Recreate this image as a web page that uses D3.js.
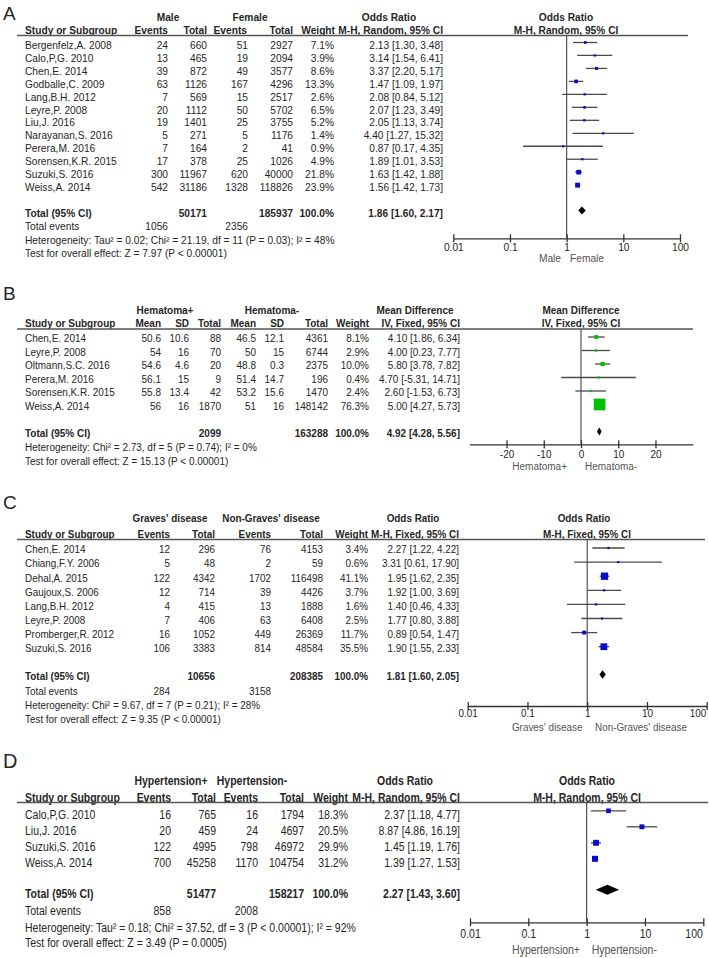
<!DOCTYPE html>
<html><head><meta charset="utf-8">
<script src="https://cdn.jsdelivr.net/npm/d3@7"></script>
<style>
body{margin:0;background:#fff}
svg{display:block}
text{font-family:"Liberation Sans",Arial,sans-serif;fill:#262626}
</style>
</head><body>
<svg id="chart" width="709" height="958"></svg>
<script>
// ---------- Panel A : Male vs Female ----------
const studiesA = ["Bergenfelz,A. 2008","Calo,P,G. 2010","Chen,E. 2014","Godballe,C. 2009","Lang,B.H. 2012","Leyre,P. 2008","Liu,J. 2016","Narayanan,S. 2016","Perera,M. 2016","Sorensen,K.R. 2015","Suzuki,S. 2016","Weiss,A. 2014"];
const maleEventsA = [24,13,39,63,7,20,19,5,7,17,300,542];
const maleTotalA = [660,465,872,1126,569,1112,1401,271,164,378,11967,31186];
const femaleEventsA = [51,19,49,167,15,50,25,5,2,25,620,1328];
const femaleTotalA = [2927,2094,3577,4296,2517,5702,3755,1176,41,1026,40000,118826];
const weightA = [7.1,3.9,8.6,13.3,2.6,6.5,5.2,1.4,0.9,4.9,21.8,23.9];
const orA = [2.13,3.14,3.37,1.47,2.08,2.07,2.05,4.40,0.87,1.89,1.63,1.56];
const loA = [1.30,1.54,2.20,1.09,0.84,1.23,1.13,1.27,0.17,1.01,1.42,1.42];
const hiA = [3.48,6.41,5.17,1.97,5.12,3.49,3.74,15.32,4.35,3.53,1.88,1.73];
const totalsA = [50171,185937];
const eventsA = [1056,2356];
const pooledA = [1.86,1.60,2.17];
const statsA = ["Heterogeneity: Tau² = 0.02; Chi² = 21.19, df = 11 (P = 0.03); I² = 48%","Test for overall effect: Z = 7.97 (P < 0.00001)"];
const groupsA = ["Male","Female","Odds Ratio","Odds Ratio"];
const headsA = ["Events","Total","Events","Total","Weight","M-H, Random, 95% CI"];
const favoursA = ["Male","Female"];

// ---------- Panel B : Hematoma ----------
const studiesB = ["Chen,E. 2014","Leyre,P. 2008","Oltmann,S.C. 2016","Perera,M. 2016","Sorensen,K.R. 2015","Weiss,A. 2014"];
const posMeanB = [50.6,54,54.6,56.1,55.8,56];
const posSdB = [10.6,16,4.6,15,13.4,16];
const posTotalB = [88,70,20,9,42,1870];
const negMeanB = [46.5,50,48.8,51.4,53.2,51];
const negSdB = [12.1,15,0.3,14.7,15.6,16];
const negTotalB = [4361,6744,2375,196,1470,148142];
const weightB = [8.1,2.9,10.0,0.4,2.4,76.3];
const mdB = [4.10,4.00,5.80,4.70,2.60,5.00];
const loB = [1.86,0.23,3.78,-5.31,-1.53,4.27];
const hiB = [6.34,7.77,7.82,14.71,6.73,5.73];
const totalsB = [2099,163288];
const pooledB = [4.92,4.28,5.56];
const statsB = ["Heterogeneity: Chi² = 2.73, df = 5 (P = 0.74); I² = 0%","Test for overall effect: Z = 15.13 (P < 0.00001)"];
const groupsB = ["Hematoma+","Hematoma-","Mean Difference","Mean Difference"];
const headsB = ["Mean","SD","Total","Mean","SD","Total","Weight","IV, Fixed, 95% CI"];
const favoursB = ["Hematoma+","Hematoma-"];

// ---------- Panel C : Graves' disease ----------
const studiesC = ["Chen,E. 2014","Chiang,F.Y. 2006","Dehal,A. 2015","Gaujoux,S. 2006","Lang,B.H. 2012","Leyre,P. 2008","Promberger,R. 2012","Suzuki,S. 2016"];
const gravesEventsC = [12,5,122,12,4,7,16,106];
const gravesTotalC = [296,48,4342,714,415,406,1052,3383];
const nonEventsC = [76,2,1702,39,13,63,449,814];
const nonTotalC = [4153,59,116498,4426,1888,6408,26369,48584];
const weightC = [3.4,0.6,41.1,3.7,1.6,2.5,11.7,35.5];
const orC = [2.27,3.31,1.95,1.92,1.40,1.77,0.89,1.90];
const loC = [1.22,0.61,1.62,1.00,0.46,0.80,0.54,1.55];
const hiC = [4.22,17.90,2.35,3.69,4.33,3.88,1.47,2.33];
const totalsC = [10656,208385];
const eventsC = [284,3158];
const pooledC = [1.81,1.60,2.05];
const statsC = ["Heterogeneity: Chi² = 9.67, df = 7 (P = 0.21); I² = 28%","Test for overall effect: Z = 9.35 (P < 0.00001)"];
const groupsC = ["Graves' disease","Non-Graves' disease","Odds Ratio","Odds Ratio"];
const headsC = ["Events","Total","Events","Total","Weight","M-H, Fixed, 95% CI"];
const favoursC = ["Graves' disease","Non-Graves' disease"];

// ---------- Panel D : Hypertension ----------
const studiesD = ["Calo,P,G. 2010","Liu,J. 2016","Suzuki,S. 2016","Weiss,A. 2014"];
const hypEventsD = [16,20,122,700];
const hypTotalD = [765,459,4995,45258];
const normEventsD = [16,24,798,1170];
const normTotalD = [1794,4697,46972,104754];
const weightD = [18.3,20.5,29.9,31.2];
const orD = [2.37,8.87,1.45,1.39];
const loD = [1.18,4.86,1.19,1.27];
const hiD = [4.77,16.19,1.76,1.53];
const totalsD = [51477,158217];
const eventsD = [858,2008];
const pooledD = [2.27,1.43,3.60];
const statsD = ["Heterogeneity: Tau² = 0.18; Chi² = 37.52, df = 3 (P < 0.00001); I² = 92%","Test for overall effect: Z = 3.49 (P = 0.0005)"];
const groupsD = ["Hypertension+","Hypertension-","Odds Ratio","Odds Ratio"];
const headsD = ["Events","Total","Events","Total","Weight","M-H, Random, 95% CI"];
const favoursD = ["Hypertension+","Hypertension-"];

// ratio axis ticks / mean-difference axis ticks
const ratioTicks = [0.01,0.1,1,10,100];
const ratioTickLabels = ["0.01","0.1","1","10","100"];
const mdTicks = [-20,-10,0,10,20];
const mdTickLabels = ["-20","-10","0","10","20"];

const svg = d3.select("#chart");
const f2 = v => v.toFixed(2);
const ciText = (e,l,h) => `${f2(e)} [${f2(l)}, ${f2(h)}]`;
const wText = w => w.toFixed(1) + "%";

function drawPanel(P) {
  const g = svg.append("g");
  const fs = P.fs, sy = P.sy;
  function T(x, cy, s, o = {}) {
    const size = o.size || fs;
    const ssy = o.sy || sy;
    const t = g.append("text")
      .attr("transform", `translate(${x},${cy + 0.358 * size * ssy}) scale(1,${ssy})`)
      .attr("text-anchor", o.anchor || "start")
      .style("font-size", size + "px")
      .text(s);
    if (o.bold) t.style("font-weight", "bold");
    return t;
  }
  T(P.letterX, P.letterY, P.letter, {size: P.letterSize, sy: 1});

  P.groups.forEach((s, i) => T(P.groupX[i], P.groupY, s, {anchor: "middle", bold: true}));
  T(P.studyX, P.headY, "Study or Subgroup", {bold: true});
  P.heads.forEach((s, i) => T(P.headX[i], P.headY, s, {anchor: "end", bold: true}));
  T(P.plotHeadX, P.headY, P.heads[P.heads.length - 1], {anchor: "middle", bold: true});

  g.append("line").attr("x1", P.lineX[0]).attr("x2", P.lineX[1])
    .attr("y1", P.lineY).attr("y2", P.lineY)
    .attr("stroke", "#555").attr("stroke-width", 1.4);

  const rowY = i => P.rowY0 + i * P.rowStep;
  P.studies.forEach((s, i) => {
    T(P.studyX, rowY(i), s);
    P.cols.forEach((c, j) => T(P.colX[j], rowY(i), String(c[i]), {anchor: "end"}));
    T(P.colX[P.cols.length], rowY(i), wText(P.weight[i]), {anchor: "end"});
    T(P.colX[P.cols.length + 1], rowY(i), ciText(P.est[i], P.lo[i], P.hi[i]), {anchor: "end"});
  });

  T(P.studyX, P.totalY, "Total (95% CI)", {bold: true});
  P.totals.forEach((v, k) => T(P.colX[P.totalCols[k]], P.totalY, String(v), {anchor: "end", bold: true}));
  T(P.colX[P.cols.length], P.totalY, "100.0%", {anchor: "end", bold: true});
  T(P.colX[P.cols.length + 1], P.totalY, ciText(P.pooled[0], P.pooled[1], P.pooled[2]), {anchor: "end", bold: true});
  if (P.events) {
    T(P.studyX, P.eventsY, "Total events");
    P.events.forEach((v, k) => T(P.colX[P.eventCols[k]], P.eventsY, String(v), {anchor: "end"}));
  }
  T(P.studyX, P.statsY[0], P.stats[0]);
  T(P.studyX, P.statsY[1], P.stats[1]);

  const x = P.log
    ? d3.scaleLog().domain([0.01, 100]).range(P.range)
    : d3.scaleLinear().domain(P.domain).range(P.range);
  g.append("line").attr("x1", x(P.nullVal)).attr("x2", x(P.nullVal))
    .attr("y1", P.lineY).attr("y2", P.axisY)
    .attr("stroke", "#444").attr("stroke-width", 1.1);

  P.studies.forEach((s, i) => {
    const y = rowY(i) + P.markDy;
    g.append("line").attr("x1", x(P.lo[i])).attr("x2", x(P.hi[i]))
      .attr("y1", y).attr("y2", y).attr("stroke", "#4a4a4a").attr("stroke-width", 1.3);
    const side = Math.max(2.2, P.mk * Math.sqrt(P.weight[i]));
    g.append("rect").attr("x", x(P.est[i]) - side / 2).attr("y", y - side / 2)
      .attr("width", side).attr("height", side).attr("fill", P.color);
  });
  const dy = P.totalY + P.markDy;
  const [pe, pl, ph] = P.pooled;
  g.append("polygon")
    .attr("points", [[x(pl), dy], [x(pe), dy - P.diaH / 2], [x(ph), dy], [x(pe), dy + P.diaH / 2]].map(p => p.join(",")).join(" "))
    .attr("fill", "#000");

  const ax = g.append("g").attr("transform", `translate(0,${P.axisY})`)
    .call(d3.axisBottom(x).tickValues(P.ticks).tickFormat((d, i) => P.tickLabels[i]).tickSizeOuter(0));
  ax.attr("font-family", null).attr("font-size", null);
  ax.select(".domain").attr("stroke", "#333").attr("stroke-width", 1.3);
  ax.selectAll(".tick line").attr("y1", -4).attr("y2", 4).attr("stroke", "#333").attr("stroke-width", 1.3);
  ax.selectAll(".tick text").attr("y", null).attr("dy", null)
    .attr("transform", `translate(0,${P.tickLabelDy + 0.358 * fs * sy}) scale(1,${sy})`)
    .style("font-size", fs + "px").style("fill", "#262626");
  // keep labels near the right page edge inside the picture
  ax.selectAll(".tick text").filter(d => x(d) > 695)
    .attr("text-anchor", "end")
    .attr("transform", `translate(-1,${P.tickLabelDy + 0.358 * fs * sy}) scale(1,${sy})`);
  T(P.favX[0], P.favY, P.favours[0], {anchor: "end"}).style("fill", "#555");
  T(P.favX[1], P.favY, P.favours[1], {anchor: "start"}).style("fill", "#555");
}

drawPanel({
  letter: "A", letterX: 3, letterY: 13, letterSize: 19, fs: 10.2, sy: 1.0,
  groups: groupsA, groupX: [168, 250, 389, 566], groupY: 17,
  heads: headsA, headX: [168, 207, 247, 293, 335, 443], headY: 30.5, plotHeadX: 566,
  studyX: 25, lineX: [17, 688], lineY: 35.5,
  studies: studiesA, cols: [maleEventsA, maleTotalA, femaleEventsA, femaleTotalA],
  colX: [168, 207, 248, 293, 334, 443],
  weight: weightA, est: orA, lo: loA, hi: hiA,
  rowY0: 45, rowStep: 12.97,
  totalY: 213, totals: totalsA, totalCols: [1, 3], pooled: pooledA,
  events: eventsA, eventCols: [0, 2], eventsY: 226.7,
  stats: statsA, statsY: [240, 253.3],
  log: true, range: [453.3, 680], nullVal: 1, ticks: ratioTicks, tickLabels: ratioTickLabels,
  axisY: 238.3, tickLabelDy: 8.7, favours: favoursA, favX: [561, 570], favY: 258.5,
  markDy: -2.5, mk: 1.0, color: "#0a0acc", diaH: 8
});

drawPanel({
  letter: "B", letterX: 3, letterY: 293, letterSize: 19, fs: 10.0, sy: 1.08,
  groups: groupsB, groupX: [165, 272, 415, 581], groupY: 310,
  heads: headsB, headX: [161, 189, 221, 256, 284, 328, 369, 460], headY: 323.3, plotHeadX: 581,
  studyX: 25, lineX: [17, 693], lineY: 329,
  studies: studiesB, cols: [posMeanB, posSdB, posTotalB, negMeanB, negSdB, negTotalB],
  colX: [161, 189, 221, 256, 284, 328, 369, 460],
  weight: weightB, est: mdB, lo: loB, hi: hiB,
  rowY0: 338.5, rowStep: 13.5,
  totalY: 433, totals: totalsB, totalCols: [2, 5], pooled: pooledB,
  events: null,
  stats: statsB, statsY: [446.7, 460.7],
  log: false, domain: [-30, 30], range: [469.3, 692.7], nullVal: 0, ticks: mdTicks, tickLabels: mdTickLabels,
  axisY: 444.3, tickLabelDy: 9.7, favours: favoursB, favX: [567, 585], favY: 466,
  markDy: -1.5, mk: 1.34, color: "#00c000", diaH: 8
});

drawPanel({
  letter: "C", letterX: 3, letterY: 502, letterSize: 19, fs: 9.9, sy: 1.1,
  groups: groupsC, groupX: [170, 271, 413, 584], groupY: 518,
  heads: headsC, headX: [170, 215, 271, 323, 368, 459], headY: 534, plotHeadX: 587,
  studyX: 25, lineX: [17, 705], lineY: 539.5,
  studies: studiesC, cols: [gravesEventsC, gravesTotalC, nonEventsC, nonTotalC],
  colX: [170, 215, 271, 323, 368, 459],
  weight: weightC, est: orC, lo: loC, hi: hiC,
  rowY0: 549.5, rowStep: 14.1,
  totalY: 676, totals: totalsC, totalCols: [1, 3], pooled: pooledC,
  events: eventsC, eventCols: [0, 2], eventsY: 691.5,
  stats: statsC, statsY: [705.5, 719.5],
  log: true, range: [467.7, 706.7], nullVal: 1, ticks: ratioTicks, tickLabels: ratioTickLabels,
  axisY: 706, tickLabelDy: 7.5, favours: favoursC, favX: [582.5, 595], favY: 727,
  markDy: -1.5, mk: 1.14, color: "#0a0acc", diaH: 8.5
});

drawPanel({
  letter: "D", letterX: 3, letterY: 761, letterSize: 20, fs: 10.5, sy: 1.17,
  groups: groupsD, groupX: [171, 252, 405, 587], groupY: 781,
  heads: headsD, headX: [171, 216, 258, 304, 348, 460], headY: 797.5, plotHeadX: 587,
  studyX: 25, lineX: [17, 708], lineY: 802.5,
  studies: studiesD, cols: [hypEventsD, hypTotalD, normEventsD, normTotalD],
  colX: [171, 216, 258, 304, 348, 460],
  weight: weightD, est: orD, lo: loD, hi: hiD,
  rowY0: 814.3, rowStep: 16,
  totalY: 893.3, totals: totalsD, totalCols: [1, 3], pooled: pooledD,
  events: eventsD, eventCols: [0, 2], eventsY: 910.7,
  stats: statsD, statsY: [927.3, 942.7],
  log: true, range: [470, 703.3], nullVal: 1, ticks: ratioTicks, tickLabels: ratioTickLabels,
  axisY: 922.3, tickLabelDy: 11, favours: favoursD, favX: [580, 591.7], favY: 949.3,
  markDy: -3.5, mk: 1.08, color: "#0a0acc", diaH: 10
});
</script>
</body></html>
